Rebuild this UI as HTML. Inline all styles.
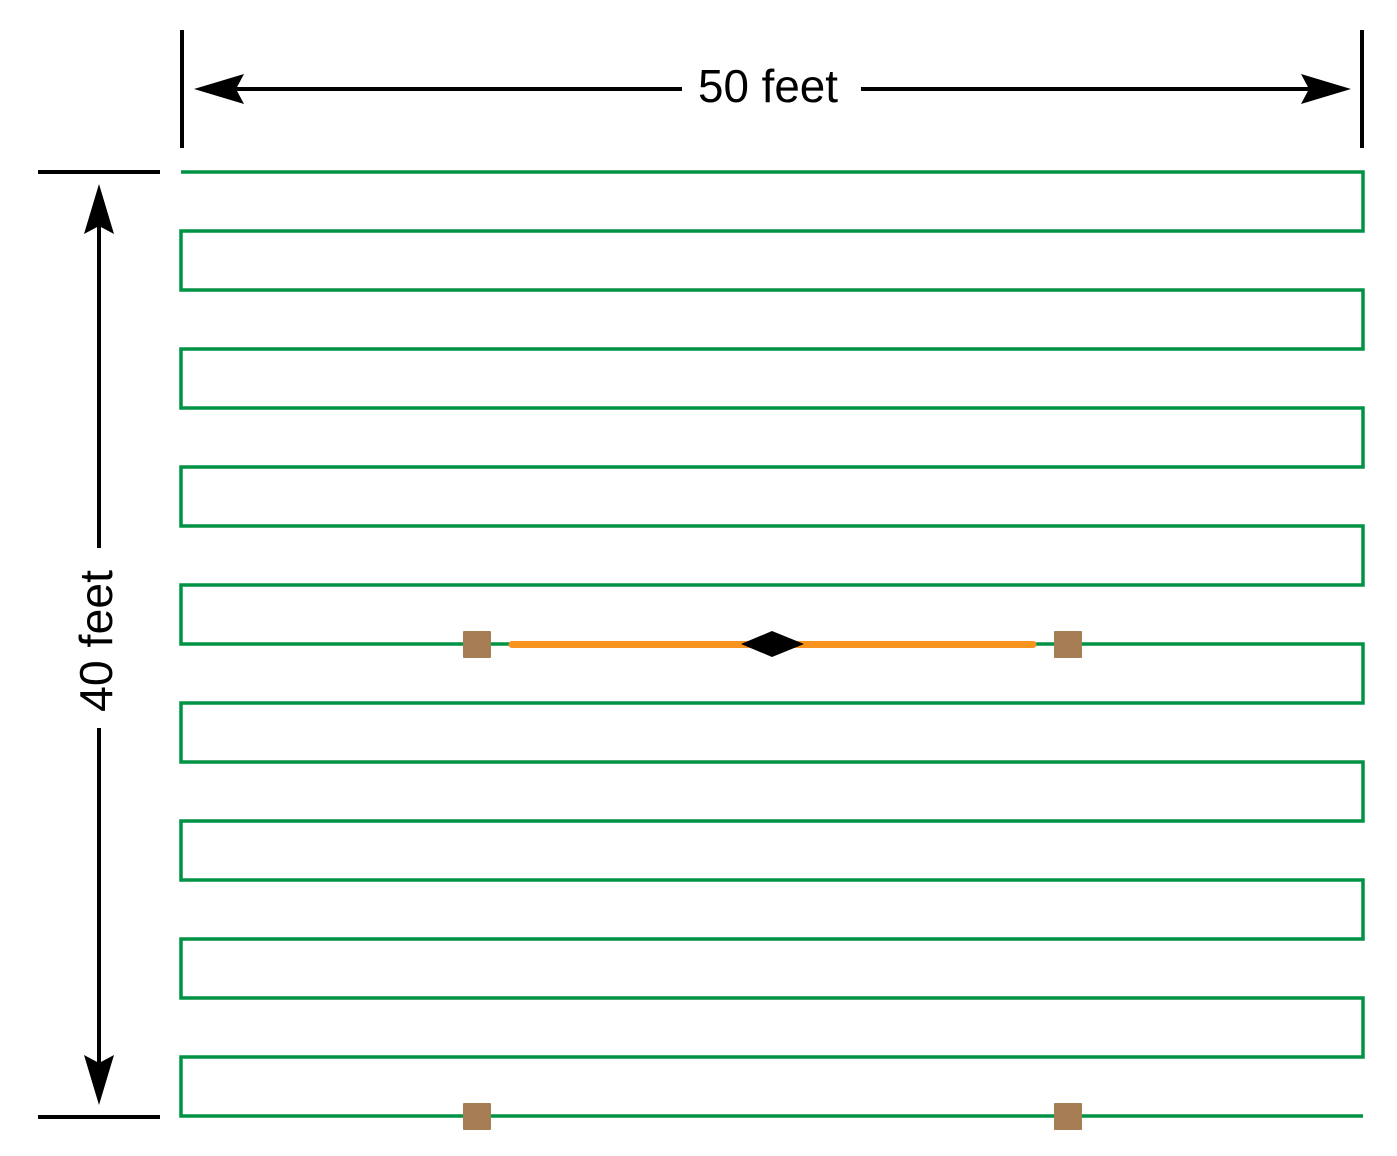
<!DOCTYPE html>
<html><head><meta charset="utf-8"><style>html,body{margin:0;padding:0;background:#fff}svg{display:block}</style></head>
<body>
<svg width="1397" height="1156" viewBox="0 0 1397 1156" xmlns="http://www.w3.org/2000/svg">
<rect width="1397" height="1156" fill="#fff"/>
<path fill="none" stroke="#009245" stroke-width="3.5" stroke-linejoin="miter" d="M181 172 H1363 V231 H181 V290 H1363 V349 H181 V408 H1363 V467 H181 V526 H1363 V585 H181 V644 H1363 V703 H181 V762 H1363 V821 H181 V880 H1363 V939 H181 V998 H1363 V1057 H181 V1116 H1363"/>
<line x1="512" y1="644.5" x2="1033" y2="644.5" stroke="#f7931e" stroke-width="7" stroke-linecap="round"/>
<polygon points="741,644 772,631 804,644 772,657" fill="#000"/>
<g fill="#a67c52">
<rect x="463" y="631" width="28" height="27" rx="1"/>
<rect x="1054" y="631" width="28" height="27" rx="1"/>
<rect x="463" y="1103" width="28" height="27" rx="1"/>
<rect x="1054" y="1103" width="28" height="27" rx="1"/>
</g>
<g stroke="#000" stroke-width="4" fill="none">
<line x1="182" y1="30" x2="182" y2="148"/>
<line x1="1362" y1="30" x2="1362" y2="148"/>
<line x1="220" y1="89" x2="682" y2="89"/>
<line x1="861" y1="89" x2="1325" y2="89"/>
<line x1="38" y1="172" x2="160" y2="172"/>
<line x1="38" y1="1117" x2="160" y2="1117"/>
<line x1="99" y1="215" x2="99" y2="548"/>
<line x1="99" y1="728" x2="99" y2="1075"/>
</g>
<g fill="#000">
<polygon points="194,89 244,74 236,89 244,104"/>
<polygon points="1351,89 1301,74 1309,89 1301,104"/>
<polygon points="99,184 84,234 99,226 114,234"/>
<polygon points="99,1105 84,1055 99,1063 114,1055"/>
</g>
<text x="768" y="102" font-family="Liberation Sans, sans-serif" font-size="46" text-anchor="middle" textLength="140" lengthAdjust="spacingAndGlyphs">50 feet</text>
<text transform="translate(112,641) rotate(-90)" x="0" y="0" font-family="Liberation Sans, sans-serif" font-size="46" text-anchor="middle" textLength="142" lengthAdjust="spacingAndGlyphs">40 feet</text>
</svg>
</body></html>
